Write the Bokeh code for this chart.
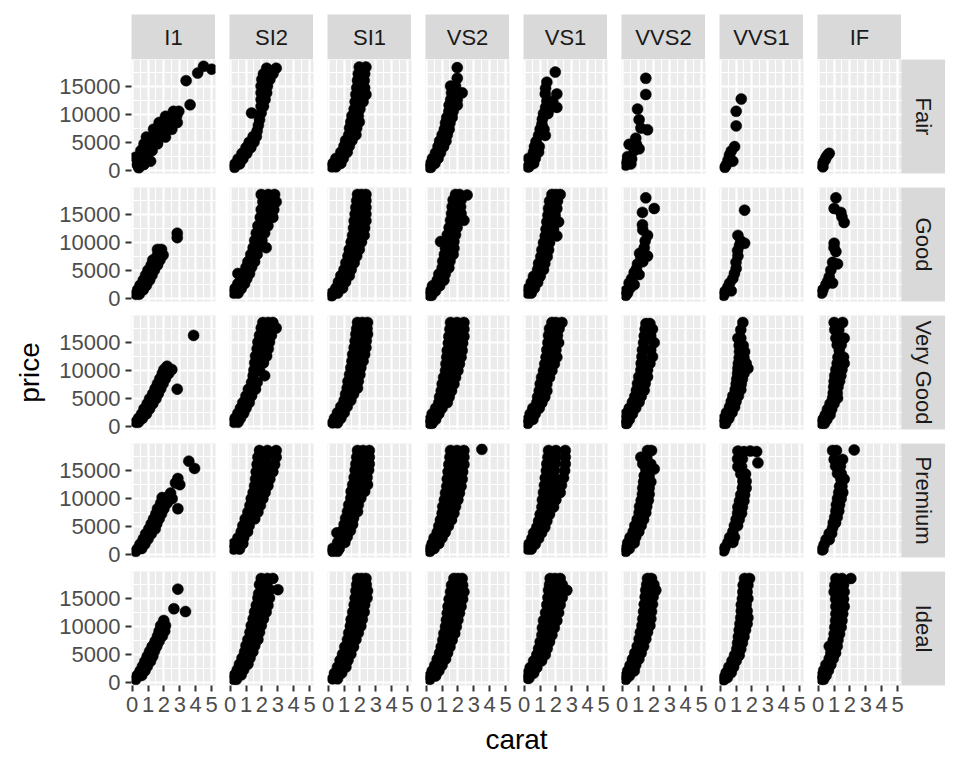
import math
from bokeh.plotting import figure
from bokeh.layouts import row, column
from bokeh.models import Range1d, FixedTicker, LinearAxis, Grid, Spacer
from bokeh.embed import file_html
from bokeh.resources import INLINE
from bokeh.core.properties import value

CUTS = ["Fair", "Good", "Very Good", "Premium", "Ideal"]
CLARITIES = ["I1", "SI2", "SI1", "VS2", "VS1", "VVS2", "VVS1", "IF"]
X_TICKS = [0, 1, 2, 3, 4, 5]
X_MINOR = [0.5, 1.5, 2.5, 3.5, 4.5]
Y_TICKS = [0, 5000, 10000, 15000]
Y_MINOR = [2500, 7500, 12500, 17500]
CARAT_LIMITS = (0.2, 5.01)
PRICE_LIMITS = (326, 18823)

# Points: (price, [carat of each point at that price])
FAIR_I1 = [(18531, [4.5]), (18018, [5.01]), (17329, [4.13]), (15964, [3.4]), (11668, [3.65]),
           (10500, [2.6, 2.94]), (9600, [2.1, 2.42, 2.8]), (8500, [1.7, 2.0, 2.42, 2.84]),
           (7300, [1.35, 1.68, 2.1, 2.5]), (5900, [0.9, 1.37, 1.75, 2.1]), (4700, [0.75, 1.2, 1.6]),
           (3500, [0.55, 0.84, 1.26]), (2300, [0.21, 0.53, 0.95]), (1600, [0.5, 1.16]), (1000, [0.32, 0.74]),
           (400, [0.42])]
GOOD_I1 = [(11600, [2.84]), (10800, [2.84]), (8700, [1.6, 1.85]), (7700, [1.6, 1.95]), (6800, [1.3, 1.75]),
           (5900, [1.2, 1.6]), (5000, [1.0, 1.4]), (4100, [0.85, 1.25]), (3200, [0.7, 1.1]), (2300, [0.5, 0.9]),
           (1500, [0.35, 0.7]), (700, [0.23, 0.45])]
VERYGOOD_I1 = [(16200, [3.87]), (10700, [2.2]), (10100, [2.0, 2.5]), (9400, [1.9, 2.3]), (8500, [1.75, 2.1]),
               (7600, [1.6, 1.95]), (6700, [1.45, 1.8]), (6600, [2.84]), (5800, [1.3, 1.65]), (4900, [1.1, 1.5]),
               (4000, [0.95, 1.3]), (3100, [0.75, 1.1]), (2200, [0.6, 0.9]), (1400, [0.4, 0.65]), (700, [0.23, 0.4])]
PREMIUM_I1 = [(16600, [3.57]), (15300, [3.93]), (13500, [2.88]), (12700, [2.73]), (12400, [3.0]), (10900, [2.42]),
              (10100, [1.89, 2.2]), (9900, [2.52]), (9100, [1.8, 2.2]), (8100, [1.6, 2.0, 2.88]), (7200, [1.5, 1.85]),
              (6300, [1.35, 1.7]), (5400, [1.2, 1.55]), (4500, [1.05, 1.45]), (3600, [0.85, 1.2]),
              (2700, [0.7, 1.0]), (1800, [0.5, 0.8]), (1000, [0.35, 0.6]), (500, [0.23])]
IDEAL_I1 = [(16600, [2.88]), (13100, [2.63]), (12600, [3.36]), (11000, [1.99]), (10100, [1.8, 2.1]),
            (9100, [1.7, 2.05]), (8200, [1.6, 1.9]), (7300, [1.45, 1.7]), (6400, [1.26, 1.55]), (5500, [1.1, 1.4]),
            (4600, [0.95, 1.3]), (3700, [0.8, 1.15]), (2800, [0.65, 0.95]), (2000, [0.5, 0.8]),
            (1200, [0.32, 0.6]), (500, [0.23])]

FAIR_SI2 = [(18200, [2.3, 2.9]), (17200, [2.1, 2.7]), (16200, [2.0, 2.5]), (15000, [1.95, 2.35]), (13800, [1.95, 2.3]),
            (12600, [1.95, 2.2]), (11400, [1.95, 2.1]), (10200, [1.35, 1.95]), (9000, [1.85]), (8000, [1.78]),
            (7000, [1.7]), (6000, [1.45, 1.65]), (5000, [1.2, 1.5]), (4000, [1.0, 1.3]), (3000, [0.75, 1.05]),
            (2000, [0.5, 0.8]), (1100, [0.3, 0.6]), (500, [0.28])]
GOOD_SI2 = [(18500, [1.96, 2.4, 2.8]), (17200, [2.06, 2.5, 2.9]), (15800, [1.96, 2.4, 2.75]), (14400, [1.9, 2.3, 2.69]),
            (12900, [1.75, 2.1, 2.38]), (11600, [1.65, 2.17]), (10300, [1.55, 2.0]), (9000, [1.45, 1.8, 2.27]),
            (7800, [1.3, 1.7]), (6500, [1.12, 1.54]), (5500, [1.0, 1.35]), (4400, [0.49, 0.8, 1.22]),
            (3500, [0.7, 1.05]), (2600, [0.49, 0.91]), (1700, [0.3, 0.7]), (900, [0.23, 0.5])]
VERYGOOD_SI2 = [(18500, [2.06, 2.4, 2.69]), (17500, [1.96, 2.45, 2.9]), (16200, [1.85, 2.2, 2.6]),
                (15000, [1.75, 2.1, 2.48]), (13800, [1.7, 2.0, 2.4]), (12500, [1.6, 1.95, 2.3]),
                (11300, [1.55, 1.9, 2.1]), (10000, [1.5, 1.85]), (9000, [1.45, 2.17]), (7800, [1.35, 1.7]),
                (6600, [1.15, 1.6]), (5400, [1.0, 1.35]), (4200, [0.8, 1.2]), (3200, [0.65, 1.0]),
                (2300, [0.49, 0.85]), (1400, [0.3, 0.65]), (700, [0.23, 0.5])]
PREMIUM_SI2 = [(18500, [1.85, 2.35, 2.9]), (17300, [1.75, 2.3, 2.9]), (16000, [1.7, 2.2, 2.8]),
               (14700, [1.64, 2.15, 2.69]), (13400, [1.6, 2.0, 2.5]), (12200, [1.54, 1.95, 2.38]),
               (11000, [1.45, 1.85, 2.2]), (9900, [1.33, 1.7, 2.06]), (8700, [1.25, 1.9]),
               (7500, [1.12, 1.5, 1.75]), (6300, [0.95, 1.55]), (5100, [0.8, 1.2]), (4000, [0.7, 1.1]),
               (2900, [0.49, 0.85]), (1900, [0.23, 0.45, 0.8]), (900, [0.23, 0.59])]
IDEAL_SI2 = [(18500, [1.96, 2.35, 2.69]), (17400, [1.85, 2.3]), (16500, [2.5, 3.01]), (15800, [1.8, 2.2]),
             (15000, [1.75, 2.1, 2.48]), (13700, [1.65, 2.0, 2.38]), (12500, [1.54, 1.9, 2.27]),
             (11300, [1.45, 1.8, 2.1]), (10100, [1.33, 1.96]), (8900, [1.25, 1.85]), (7600, [1.12, 1.45, 1.75]),
             (6500, [1.0, 1.55]), (5400, [0.91, 1.43]), (4300, [0.75, 1.25]), (3200, [0.59, 1.12]),
             (2200, [0.45, 0.85]), (1300, [0.28, 0.7]), (500, [0.23, 0.4])]

FAIR_SI1 = [(18400, [1.96, 2.38]), (17200, [1.9, 2.3]), (16000, [1.85, 2.27]), (14700, [1.8, 2.3]),
            (13500, [1.75, 2.38]), (12200, [1.7, 2.2]), (10900, [1.64, 2.0]), (9700, [1.5, 1.9]),
            (8600, [1.43, 1.96]), (7500, [1.35, 1.8]), (6300, [1.3, 1.75]), (5300, [1.1, 1.5]), (4300, [1.0, 1.33]),
            (3200, [0.8, 1.2]), (2100, [0.49, 0.95]), (1200, [0.3, 0.8]), (600, [0.23, 0.49])]
GOOD_SI1 = [(18500, [1.85, 2.1, 2.38]), (17400, [1.8, 2.38]), (16200, [1.75, 2.1, 2.38]), (15000, [1.7, 2.05, 2.38]),
            (13800, [1.64, 2.0, 2.38]), (12500, [1.6, 1.95, 2.3]), (11200, [1.54, 1.9, 2.27]),
            (10000, [1.45, 1.8, 2.1]), (8700, [1.33, 1.7, 1.96]), (7500, [1.25, 1.8]), (6300, [1.12, 1.64]),
            (5100, [1.0, 1.45]), (4000, [0.8, 1.33]), (2900, [0.65, 1.1]), (1800, [0.49, 0.91]), (900, [0.23, 0.6]),
            (400, [0.23])]
VERYGOOD_SI1 = [(18500, [1.85, 2.15, 2.48]), (17400, [1.8, 2.1, 2.45]), (16400, [1.75, 2.1, 2.48]),
                (15200, [1.7, 2.05, 2.4]), (14000, [1.64, 2.0, 2.38]), (12800, [1.55, 1.9, 2.3]),
                (11600, [1.5, 1.85, 2.2]), (10400, [1.43, 2.06]), (9200, [1.35, 1.75, 2.0]), (8000, [1.25, 1.6, 1.9]),
                (6800, [1.2, 1.5, 1.85]), (5700, [1.1, 1.6]), (4600, [1.01, 1.43]), (3500, [0.8, 1.2]),
                (2400, [0.59, 1.01]), (1400, [0.4, 0.8]), (600, [0.28, 0.59])]
PREMIUM_SI1 = [(18500, [1.85, 2.2, 2.59]), (17300, [1.8, 2.2, 2.59]), (16100, [1.75, 2.15, 2.59]),
               (15000, [1.7, 2.1, 2.55]), (13700, [1.64, 2.05, 2.45]), (12400, [1.55, 1.95, 2.48]),
               (11200, [1.45, 1.9, 2.3]), (10000, [1.43, 1.8, 2.06]), (8800, [1.3, 1.9]), (7600, [1.22, 1.55, 1.85]),
               (6400, [1.1, 1.6]), (5300, [1.01, 1.54]), (4200, [0.9, 1.4]), (3800, [0.55]), (3100, [0.75, 1.2]),
               (2100, [0.6, 1.05]), (1000, [0.28, 0.7]), (500, [0.28, 0.59])]
IDEAL_SI1 = [(18500, [1.85, 2.1, 2.38]), (17400, [1.8, 2.1, 2.4]), (16300, [1.75, 2.1, 2.48]),
             (15000, [1.7, 2.1, 2.45]), (13800, [1.64, 2.0, 2.3]), (12500, [1.55, 1.9, 2.27]),
             (11200, [1.45, 1.85, 2.15]), (10000, [1.4, 1.75, 2.06]), (8800, [1.3, 1.9]), (7600, [1.22, 1.75]),
             (6300, [1.05, 1.6]), (5000, [0.91, 1.43]), (3900, [0.75, 1.25]), (2700, [0.59, 1.12]),
             (1600, [0.4, 0.85]), (600, [0.28, 0.59])]

FAIR_VS2 = [(18300, [1.96]), (16400, [1.96]), (15000, [1.54, 1.85]), (13800, [1.6, 2.27]), (12600, [1.55, 1.96]),
            (11600, [1.45, 1.96]), (10500, [1.43, 1.7]), (9400, [1.3, 1.64]), (8400, [1.22, 1.5]),
            (7300, [1.15, 1.45]), (6300, [1.01, 1.33]), (5200, [0.85, 1.25]), (4200, [0.75, 1.1]),
            (3100, [0.59, 0.9]), (2100, [0.4, 0.75]), (1200, [0.28, 0.55]), (500, [0.23, 0.3])]
GOOD_VS2 = [(18500, [1.85, 2.1]), (18400, [2.58]), (17500, [1.7, 2.2]), (16300, [1.64, 2.17]), (15100, [1.6, 2.2]),
            (13900, [1.54, 2.0, 2.38]), (12600, [1.45, 1.95]), (11300, [1.33, 1.85]), (10100, [0.91, 1.3, 1.75]),
            (8900, [1.22, 1.75]), (7800, [1.15, 1.7]), (6600, [1.05, 1.5]), (5400, [1.01, 1.43]),
            (4300, [0.8, 1.2]), (3200, [0.7, 1.12]), (2200, [0.4, 0.85]), (1300, [0.28, 0.59]), (500, [0.23, 0.35])]
VERYGOOD_VS2 = [(18500, [1.54, 1.95, 2.38]), (17300, [1.5, 1.95, 2.38]), (16000, [1.43, 1.9, 2.38]),
                (14800, [1.4, 1.85, 2.3]), (13500, [1.33, 1.8, 2.27]), (12300, [1.3, 1.7, 2.2]),
                (11100, [1.25, 1.65, 2.1]), (9900, [1.22, 1.6, 2.0]), (8700, [1.1, 1.5, 1.85]),
                (7500, [1.01, 1.4, 1.75]), (6300, [0.95, 1.3, 1.6]), (5200, [0.85, 1.45]), (4200, [0.8, 1.33]),
                (3200, [0.6, 1.0]), (2200, [0.38, 0.8]), (1200, [0.23, 0.6]), (500, [0.23, 0.38])]
PREMIUM_VS2 = [(18701, [3.51]), (18500, [1.54, 1.95, 2.38]), (17300, [1.5, 1.95, 2.38]), (16000, [1.43, 1.9, 2.38]),
               (14700, [1.38, 1.8, 2.3]), (13400, [1.33, 1.75, 2.27]), (12100, [1.3, 1.7, 2.2]),
               (10900, [1.22, 1.65, 2.1]), (9700, [1.15, 1.6, 2.0]), (8500, [1.05, 1.45, 1.85]),
               (7300, [1.01, 1.4, 1.75]), (6100, [0.9, 1.25, 1.6]), (5000, [0.8, 1.4]), (3900, [0.7, 1.2]),
               (2900, [0.5, 1.0]), (1900, [0.38, 0.8]), (1000, [0.23, 0.5]), (500, [0.23])]
IDEAL_VS2 = [(18500, [1.75, 2.0, 2.27]), (17300, [1.6, 1.95, 2.3]), (16100, [1.54, 1.95, 2.38]),
             (14800, [1.45, 1.9, 2.3]), (13500, [1.38, 1.8, 2.2]), (12300, [1.33, 1.7, 2.1]),
             (11100, [1.28, 1.65, 2.0]), (9900, [1.22, 1.55, 1.9]), (8700, [1.12, 1.45, 1.8]), (7500, [1.05, 1.64]),
             (6300, [0.95, 1.5]), (5200, [0.85, 1.35]), (4100, [0.7, 1.22]), (3000, [0.55, 1.0]),
             (2000, [0.38, 0.8]), (1100, [0.23, 0.6]), (500, [0.23])]

FAIR_VS1 = [(17500, [1.96]), (15700, [1.43]), (14600, [1.35]), (13600, [1.33, 2.06]), (12300, [1.43, 1.8]),
            (11200, [1.35, 1.7, 2.06]), (10100, [1.22, 1.5]), (9100, [1.15]), (8200, [1.12]), (7300, [1.01, 1.25]),
            (6200, [0.91, 1.33]), (5100, [0.75]), (4200, [0.65, 0.95]), (3200, [0.59, 0.91]), (2100, [0.28, 0.7]),
            (1200, [0.4, 0.6]), (600, [0.23, 0.3])]
GOOD_VS1 = [(18500, [1.75, 2.0, 2.27]), (17300, [1.6, 2.1]), (16000, [1.54, 2.06]), (14800, [1.5, 1.95]),
            (13600, [1.43, 1.8, 2.17]), (12300, [1.38, 1.85]), (11100, [1.33, 1.7, 2.06]), (9900, [1.22, 1.6]),
            (8600, [1.12, 1.54]), (7400, [1.05, 1.45]), (6200, [0.91, 1.3]), (5100, [0.85, 1.22]),
            (3900, [0.59, 1.01]), (2800, [0.45, 0.85]), (1800, [0.28, 0.65]), (900, [0.23, 0.45])]
VERYGOOD_VS1 = [(18500, [1.75, 2.0, 2.38]), (17400, [1.6, 2.2]), (16200, [1.54, 2.1]), (14900, [1.5, 1.85, 2.17]),
                (13600, [1.43, 2.0]), (12300, [1.38, 1.75, 2.06]), (11100, [1.3, 1.9]), (9900, [1.22, 1.55, 1.75]),
                (8700, [1.1, 1.6]), (7500, [1.01, 1.43]), (6300, [0.95, 1.43]), (5200, [0.85, 1.3]),
                (4200, [0.8, 1.12]), (3200, [0.55, 0.95]), (2200, [0.38, 0.7]), (1200, [0.23, 0.55]), (500, [0.23])]
PREMIUM_VS1 = [(18500, [1.54, 2.0, 2.59]), (17300, [1.5, 2.0, 2.59]), (16100, [1.43, 1.95, 2.59]),
               (14900, [1.4, 1.9, 2.55]), (13600, [1.33, 1.9, 2.48]), (12300, [1.28, 1.8, 2.35]),
               (11000, [1.22, 1.7, 2.27]), (9700, [1.15, 1.6, 2.0]), (8400, [1.12, 1.5, 1.85]),
               (7100, [1.01, 1.35, 1.6]), (5900, [0.91, 1.43]), (4800, [0.8, 1.3]), (3800, [0.6, 1.1]),
               (2800, [0.49, 0.91]), (1800, [0.3, 0.7]), (900, [0.23, 0.45])]
IDEAL_VS1 = [(18500, [1.64, 1.95, 2.27]), (17400, [1.6, 2.0, 2.4]), (16400, [1.54, 2.1, 2.69]),
             (15100, [1.5, 1.9, 2.4]), (13800, [1.43, 1.85, 2.27]), (12400, [1.35, 1.75, 2.17]),
             (11000, [1.22, 1.65, 2.06]), (9700, [1.15, 1.5, 1.9]), (8400, [1.12, 1.45, 1.75]),
             (7200, [1.01, 1.6]), (6000, [0.91, 1.45]), (4900, [0.8, 1.33]), (3800, [0.6, 1.1]),
             (2600, [0.38, 0.8]), (1600, [0.23, 0.6]), (700, [0.23, 0.3])]

FAIR_VVS2 = [(16400, [1.49]), (13500, [1.49]), (10900, [0.97]), (9000, [1.07]), (7500, [1.18]), (7200, [1.6]),
             (5700, [0.86]), (4600, [0.44, 0.9]), (3800, [1.07]), (3500, [0.76]), (2400, [0.34]), (2000, [0.6]),
             (1500, [0.3]), (1100, [0.55]), (900, [0.23])]
GOOD_VVS2 = [(17900, [1.49]), (16000, [2.02]), (15300, [1.28]), (13100, [1.28]), (12200, [1.3]), (11200, [1.6]),
             (10200, [1.45]), (9000, [1.39]), (8000, [1.1]), (7500, [1.6]), (7200, [1.18]), (6500, [1.3]),
             (6100, [0.97]), (5200, [0.9]), (4600, [0.76]), (4200, [1.07]), (3500, [0.6]), (2700, [0.44]),
             (2400, [0.76]), (1800, [0.5]), (1300, [0.23]), (900, [0.34]), (500, [0.23])]
VERYGOOD_VVS2 = [(18300, [1.5, 1.75]), (17300, [1.45, 1.91]), (16100, [1.39, 1.8]), (14900, [1.35, 2.02]),
                 (13600, [1.28, 1.8]), (12400, [1.25, 1.91]), (11200, [1.2, 1.75]), (10000, [1.18, 1.6]),
                 (8800, [1.05, 1.6]), (7600, [0.97, 1.45]), (6400, [0.9, 1.39]), (5300, [0.8, 1.2]),
                 (4300, [0.65, 1.07]), (3200, [0.45, 0.85]), (2200, [0.23, 0.65]), (1200, [0.23, 0.45]),
                 (500, [0.23, 0.3])]
PREMIUM_VVS2 = [(18500, [1.6, 1.85]), (17300, [1.18, 1.55]), (16100, [1.3, 1.8]), (15200, [1.49, 2.02]),
                (14000, [1.39, 1.7]), (12900, [1.35, 1.81]), (11800, [1.3, 1.7]), (10700, [1.28, 1.7]),
                (9600, [1.2, 1.65]), (8500, [1.1, 1.55]), (7400, [1.07, 1.49]), (6200, [0.95, 1.35]),
                (5100, [0.8, 1.2]), (4000, [0.7, 1.05]), (3000, [0.5, 0.85]), (2000, [0.35, 0.76]),
                (1000, [0.23, 0.45]), (500, [0.23])]
IDEAL_VVS2 = [(18500, [1.6, 1.85]), (17400, [1.55, 2.0]), (16400, [1.49, 2.12]), (15200, [1.45, 1.95]),
              (13900, [1.39, 1.91]), (12600, [1.35, 1.85]), (11300, [1.3, 1.81]), (10100, [1.25, 1.75]),
              (8900, [1.15, 1.6]), (7700, [1.07, 1.49]), (6400, [0.95, 1.35]), (5200, [0.8, 1.2]),
              (4100, [0.65, 1.05]), (3000, [0.5, 0.85]), (2000, [0.35, 0.76]), (1100, [0.23, 0.45]), (500, [0.23])]

FAIR_VVS1 = [(12700, [1.33]), (10500, [1.01]), (7900, [1.01]), (4200, [0.91]), (3400, [0.7]), (2700, [0.59]),
             (1800, [0.5]), (1600, [0.8]), (900, [0.38]), (500, [0.3])]
GOOD_VVS1 = [(15700, [1.54]), (11200, [1.12]), (10200, [1.3]), (9800, [1.54]), (9400, [1.22]), (8500, [1.1]),
             (7500, [1.12]), (6400, [1.0]), (5300, [1.01]), (4400, [0.9]), (3500, [0.8]), (2700, [0.6]),
             (2000, [0.49]), (1300, [0.7]), (1200, [0.3]), (500, [0.23])]
VERYGOOD_VVS1 = [(18500, [1.43]), (17200, [1.3]), (15700, [1.12, 1.3]), (14400, [1.2, 1.45]), (13300, [1.22, 1.54]),
                 (12200, [1.2, 1.5]), (11200, [1.15, 1.64]), (10300, [1.12, 1.75]), (9400, [1.1, 1.5]),
                 (8400, [1.05, 1.4]), (7500, [1.01, 1.33]), (6500, [0.95, 1.3]), (5400, [0.8, 1.15]),
                 (4400, [0.7, 1.0]), (3400, [0.59, 0.91]), (2400, [0.4, 0.75]), (1400, [0.23, 0.55]),
                 (500, [0.23, 0.35])]
PREMIUM_VVS1 = [(18400, [1.12, 1.9]), (18300, [1.5, 2.3]), (17000, [1.1, 1.4]), (16300, [2.38]), (15600, [1.12, 1.35]),
                (14300, [1.3, 1.6]), (13000, [1.43, 1.64]), (11800, [1.4, 1.64]), (10600, [1.3, 1.54]),
                (9500, [1.22, 1.5]), (8400, [1.12, 1.4]), (7300, [1.1, 1.35]), (6200, [1.01, 1.2]),
                (5100, [0.9, 1.1]), (4000, [0.8]), (3000, [0.6, 0.9]), (2100, [0.49, 0.8]), (1200, [0.3]),
                (600, [0.23])]
IDEAL_VVS1 = [(18500, [1.54, 1.85]), (17300, [1.45, 1.75]), (16100, [1.43, 1.7]), (14900, [1.4, 1.75]),
              (13800, [1.33, 1.64]), (12700, [1.33, 1.7]), (11500, [1.3, 1.75]), (10400, [1.25, 1.7]),
              (9300, [1.2, 1.6]), (8100, [1.15, 1.5]), (7000, [1.1, 1.4]), (5900, [1.05, 1.3]), (4800, [0.91, 1.2]),
              (3800, [0.75, 1.01]), (2700, [0.55, 0.85]), (1700, [0.38, 0.7]), (800, [0.23, 0.45]), (400, [0.23])]

FAIR_IF = [(3000, [0.7]), (2700, [0.6]), (2300, [0.5]), (1900, [0.45]), (1500, [0.35]), (900, [0.23]), (600, [0.3])]
GOOD_IF = [(17900, [1.12]), (16000, [1.01]), (15300, [1.43]), (14500, [1.5]), (13500, [1.64]), (9800, [1.01]),
           (9000, [1.0]), (8300, [1.12]), (6400, [0.91]), (6100, [1.22]), (5000, [0.8]), (3800, [0.7]),
           (3000, [0.6]), (2700, [0.91]), (2400, [0.49]), (1500, [0.3]), (900, [0.23])]
VERYGOOD_IF = [(18500, [1.01, 1.54]), (17200, [1.05, 1.3]), (15700, [1.12, 1.64]), (14500, [1.2, 1.45]),
               (13500, [1.33]), (12300, [1.25, 1.6]), (11200, [1.2, 1.64]), (10100, [1.12, 1.5]),
               (9000, [1.05, 1.43]), (8000, [1.01, 1.35]), (7000, [0.98, 1.25]), (5900, [0.95, 1.2]),
               (5000, [0.91, 1.22]), (4000, [0.75, 1.0]), (3000, [0.59, 0.85]), (2000, [0.45, 0.75]),
               (1200, [0.3, 0.55]), (500, [0.23, 0.4])]
PREMIUM_IF = [(18600, [2.27]), (18500, [0.91, 1.15]), (16900, [1.01, 1.54]), (15700, [1.1, 1.4]), (14400, [1.22, 1.45]),
              (13400, [1.43, 1.64]), (12100, [1.35, 1.5]), (11000, [1.3, 1.55]), (9900, [1.22, 1.45]),
              (8800, [1.15, 1.35]), (7700, [1.12, 1.3]), (6600, [1.05, 1.2]), (5600, [0.95, 1.1]), (4700, [0.91]),
              (3700, [0.7, 0.85]), (2600, [0.5, 0.7]), (1700, [0.38]), (800, [0.23, 0.3])]
IDEAL_IF = [(18500, [1.12, 1.5, 2.06]), (17300, [1.05, 1.6]), (16100, [1.01, 1.35, 1.64]), (14800, [1.1, 1.6]),
            (13500, [1.12, 1.64]), (12200, [1.12, 1.55]), (11000, [1.1, 1.5]), (9800, [1.05, 1.45]),
            (8600, [1.01, 1.35]), (7500, [0.95, 1.25]), (6400, [0.7, 1.0, 1.2]), (5200, [0.8, 1.1]),
            (4200, [0.7, 0.95]), (3100, [0.49, 0.8]), (2100, [0.35, 0.65]), (1200, [0.23, 0.5]), (500, [0.23, 0.35])]

PANELS = {
    "Fair": [FAIR_I1, FAIR_SI2, FAIR_SI1, FAIR_VS2, FAIR_VS1, FAIR_VVS2, FAIR_VVS1, FAIR_IF],
    "Good": [GOOD_I1, GOOD_SI2, GOOD_SI1, GOOD_VS2, GOOD_VS1, GOOD_VVS2, GOOD_VVS1, GOOD_IF],
    "Very Good": [VERYGOOD_I1, VERYGOOD_SI2, VERYGOOD_SI1, VERYGOOD_VS2, VERYGOOD_VS1, VERYGOOD_VVS2,
                  VERYGOOD_VVS1, VERYGOOD_IF],
    "Premium": [PREMIUM_I1, PREMIUM_SI2, PREMIUM_SI1, PREMIUM_VS2, PREMIUM_VS1, PREMIUM_VVS2, PREMIUM_VVS1,
                PREMIUM_IF],
    "Ideal": [IDEAL_I1, IDEAL_SI2, IDEAL_SI1, IDEAL_VS2, IDEAL_VS1, IDEAL_VVS2, IDEAL_VVS1, IDEAL_IF],
}

# ---------------- layout / style ----------------
FONT = "Liberation Sans"
PANEL_W, PANEL_H = 84, 114
GAP = 14
HALF = GAP // 2
YAXIS_W = 83
XAXIS_H = 40
TOP_PAD = 14
STRIP_H = 45
RSTRIP_W = 44
TITLE_W = 48
XTITLE_H = 30
BG = "#EBEBEB"
STRIP_BG = "#D9D9D9"

xpad = 0.05 * (CARAT_LIMITS[1] - CARAT_LIMITS[0])
ypad = 0.05 * (PRICE_LIMITS[1] - PRICE_LIMITS[0])
XR = (CARAT_LIMITS[0] - xpad, CARAT_LIMITS[1] + xpad)
YR = (PRICE_LIMITS[0] - ypad, PRICE_LIMITS[1] + ypad)


def unpack(rows):
    xs, ys = [], []
    for price, carats in rows:
        for c in carats:
            xs.append(c)
            ys.append(price)
    return xs, ys


def base_fig(fw, fh, xr, yr, bg, left=0, right=0, bottom=0):
    return figure(frame_width=fw, frame_height=fh, x_range=Range1d(*xr), y_range=Range1d(*yr),
                  x_axis_type=None, y_axis_type=None, toolbar_location=None, tools="",
                  output_backend="svg", title=None,
                  min_border_left=left, min_border_right=right, min_border_top=0, min_border_bottom=bottom,
                  background_fill_color=bg, border_fill_color="white", outline_line_color=None)


def style_axis(ax):
    ax.axis_line_color = None
    ax.major_tick_line_color = "#333333"
    ax.major_tick_line_width = 2
    ax.major_tick_in = 0
    ax.major_tick_out = 6
    ax.minor_tick_line_color = None
    ax.major_label_text_color = "#4D4D4D"
    ax.major_label_text_font = FONT
    ax.major_label_text_font_size = "22px"
    ax.major_label_standoff = 5


def make_panel(rows, k, cut, last_row):
    last_col = k == len(CLARITIES) - 1
    fw = PANEL_W + (RSTRIP_W if last_col else 0)
    xr = (XR[0], XR[0] + (XR[1] - XR[0]) * fw / PANEL_W)
    p = base_fig(fw, PANEL_H, xr, YR, BG,
                 left=YAXIS_W if k == 0 else HALF,
                 right=0 if last_col else HALF,
                 bottom=XAXIS_H if last_row else GAP)
    p.add_layout(Grid(dimension=0, ticker=FixedTicker(ticks=X_TICKS, minor_ticks=X_MINOR),
                      grid_line_color="white", grid_line_width=2.2,
                      minor_grid_line_color="white", minor_grid_line_width=1.1))
    p.add_layout(Grid(dimension=1, ticker=FixedTicker(ticks=Y_TICKS, minor_ticks=Y_MINOR),
                      grid_line_color="white", grid_line_width=2.2,
                      minor_grid_line_color="white", minor_grid_line_width=1.1))
    if k == 0:
        ax = LinearAxis(ticker=FixedTicker(ticks=Y_TICKS))
        style_axis(ax)
        p.add_layout(ax, "left")
    if last_row:
        ax = LinearAxis(ticker=FixedTicker(ticks=X_TICKS))
        style_axis(ax)
        p.add_layout(ax, "below")
    xs, ys = unpack(rows)
    p.scatter(x=xs, y=ys, size=11, fill_color="black", line_color="black", line_width=0.5)
    if last_col:
        # the row strip (facet label on the right), in pixel units of this frame
        p.extra_x_ranges = {"px": Range1d(0, fw)}
        p.extra_y_ranges = {"py": Range1d(0, PANEL_H)}
        p.quad(left=[PANEL_W], right=[fw], bottom=[0], top=[PANEL_H], fill_color=STRIP_BG, line_color=None,
               x_range_name="px", y_range_name="py")
        p.text(x=[PANEL_W + RSTRIP_W / 2], y=[PANEL_H / 2], text=[cut], angle=-math.pi / 2,
               text_align="center", text_baseline="middle", text_font=value(FONT),
               text_font_size="22px", text_color="#1A1A1A", x_range_name="px", y_range_name="py")
    return p


def make_strip(text):
    p = base_fig(PANEL_W, STRIP_H, (0, 1), (0, 1), STRIP_BG)
    p.text(x=[0.5], y=[0.5], text=[text], text_align="center", text_baseline="middle",
           text_font=value(FONT), text_font_size="22px", text_color="#1A1A1A")
    return p


# top strips
top_items = [Spacer(width=YAXIS_W, height=STRIP_H)]
for k, cl in enumerate(CLARITIES):
    if k > 0:
        top_items.append(Spacer(width=GAP, height=STRIP_H))
    top_items.append(make_strip(cl))
col_items = [Spacer(width=10, height=TOP_PAD), row(*top_items)]

for r, cut in enumerate(CUTS):
    last = r == len(CUTS) - 1
    items = [make_panel(PANELS[cut][k], k, cut, last) for k in range(len(CLARITIES))]
    col_items.append(row(*items))

# x title
grid_w = len(CLARITIES) * PANEL_W + (len(CLARITIES) - 1) * GAP
xt = base_fig(grid_w, XTITLE_H, (0, grid_w), (0, XTITLE_H), "white")
xt.text(x=[grid_w / 2], y=[XTITLE_H - 14], text=["carat"], text_align="center", text_baseline="middle",
        text_font=value(FONT), text_font_size="28px", text_color="black")
col_items.append(row(Spacer(width=YAXIS_W, height=XTITLE_H), xt))

panels_h = len(CUTS) * PANEL_H + (len(CUTS) - 1) * GAP
total_h = TOP_PAD + STRIP_H + panels_h + XAXIS_H + XTITLE_H
panel_mid = TOP_PAD + STRIP_H + panels_h / 2
yt = base_fig(TITLE_W, total_h, (0, TITLE_W), (0, total_h), "white")
yt.text(x=[29], y=[total_h - panel_mid], text=["price"], angle=math.pi / 2, text_align="center",
        text_baseline="middle", text_font=value(FONT), text_font_size="28px", text_color="black")

layout = row(yt, column(*col_items))

open("out.html", "w").write(file_html(layout, INLINE))
